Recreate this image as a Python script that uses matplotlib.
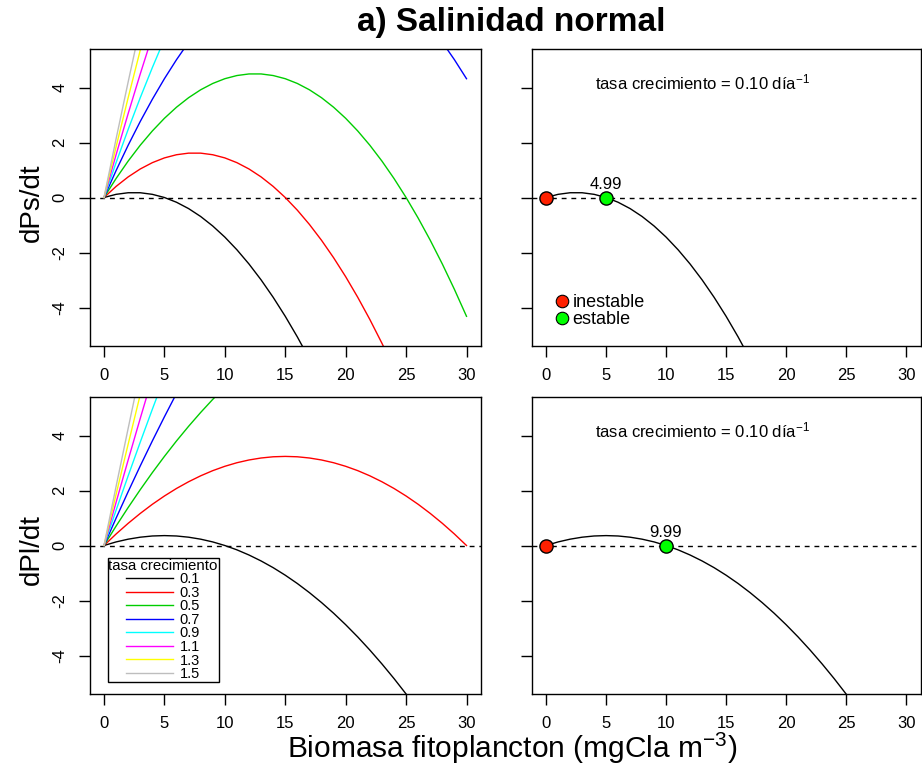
import matplotlib
matplotlib.use("Agg")
import matplotlib.pyplot as plt
from matplotlib.lines import Line2D

plt.rcParams['font.family'] = ['Liberation Sans', 'DejaVu Sans']
plt.rcParams['mathtext.fontset'] = 'custom'
plt.rcParams['mathtext.rm'] = 'Liberation Sans'
plt.rcParams['mathtext.it'] = 'Liberation Sans:italic'
plt.rcParams['mathtext.bf'] = 'Liberation Sans:bold'
plt.rcParams['axes.unicode_minus'] = False

# ---------------- data ----------------
title = "a) Salinidad normal"
xlabel = "Biomasa fitoplancton (mgCla m$^{-3}$)"
ylabels = ["dPs/dt", "dPl/dt"]
rates = ["0.1", "0.3", "0.5", "0.7", "0.9", "1.1", "1.3", "1.5"]
rate_colors = ["black", "#FF0000", "#00CD00", "#0000FF", "#00FFFF", "#FF00FF", "#FFFF00", "#BEBEBE"]
biomass = list(range(0, 31))   # x grid (mgCla m-3)

ps_01 = [0, 0.115, 0.173, 0.173, 0.115, 0, -0.173, -0.403, -0.691, -1.037, -1.44, -1.901,
         -2.419, -2.995, -3.629, -4.32, -5.069, -5.875]
ps_03 = [0, 0.403, 0.749, 1.037, 1.267, 1.44, 1.555, 1.613, 1.613, 1.555, 1.44, 1.267, 1.037,
         0.749, 0.403, 0, -0.461, -0.979, -1.555, -2.189, -2.88, -3.629, -4.435, -5.299, -6.221]
ps_05 = [0, 0.691, 1.325, 1.901, 2.419, 2.88, 3.283, 3.629, 3.917, 4.147, 4.32, 4.435, 4.493,
         4.493, 4.435, 4.32, 4.147, 3.917, 3.629, 3.283, 2.88, 2.419, 1.901, 1.325, 0.691, 0,
         -0.749, -1.555, -2.419, -3.341, -4.32]
ps_07 = [0, 0.979, 1.901, 2.765, 3.571, 4.32, 5.011, 5.645, 6.221, 6.739, 7.2, 7.603, 7.949,
         8.237, 8.467, 8.64, 8.755, 8.813, 8.813, 8.755, 8.64, 8.467, 8.237, 7.949, 7.603, 7.2,
         6.739, 6.221, 5.645, 5.011, 4.32]
ps_09 = [0, 1.267, 2.477, 3.629, 4.723, 5.76, 6.739]
ps_11 = [0, 1.555, 3.053, 4.493, 5.875]
ps_13 = [0, 1.843, 3.629, 5.357, 7.027]
ps_15 = [0, 2.131, 4.205, 6.221]

pl_01 = [0, 0.130, 0.230, 0.302, 0.346, 0.36, 0.346, 0.302, 0.230, 0.130, 0, -0.158, -0.346,
         -0.562, -0.806, -1.08, -1.382, -1.714, -2.074, -2.462, -2.88, -3.326, -3.802, -4.306,
         -4.838, -5.4, -5.990]
pl_03 = [0, 0.418, 0.806, 1.166, 1.498, 1.8, 2.074, 2.318, 2.534, 2.722, 2.88, 3.010, 3.110,
         3.182, 3.226, 3.24, 3.226, 3.182, 3.110, 3.010, 2.88, 2.722, 2.534, 2.318, 2.074, 1.8,
         1.498, 1.166, 0.806, 0.418, 0]
pl_05 = [0, 0.706, 1.382, 2.030, 2.650, 3.24, 3.802, 4.334, 4.838, 5.314, 5.76, 6.178]
pl_07 = [0, 0.994, 1.958, 2.894, 3.802, 4.68, 5.530, 6.350]
pl_09 = [0, 1.282, 2.534, 3.758, 4.954, 6.12]
pl_11 = [0, 1.570, 3.110, 4.622, 6.106]
pl_13 = [0, 1.858, 3.686, 5.486, 7.258]
pl_15 = [0, 2.146, 4.262, 6.350]

ps_curves = [ps_01, ps_03, ps_05, ps_07, ps_09, ps_11, ps_13, ps_15]
pl_curves = [pl_01, pl_03, pl_05, pl_07, pl_09, pl_11, pl_13, pl_15]

eq_ps = [0, 4.99]          # unstable, stable equilibria (Ps)
eq_pl = [0, 9.99]          # unstable, stable equilibria (Pl)
eq_colors = ["#FF2000", "#00FF00"]
eq_labels = ["inestable", "estable"]
sel_rate_text = "tasa crecimiento = 0.10 d\u00eda$^{-1}$"

xticks = [0, 5, 10, 15, 20, 25, 30]
yticks = [-4, -2, 0, 2, 4]
xlim = (-1.2, 31.2)
ylim = (-5.4, 5.4)

# ---------------- figure ----------------
W, H = 922, 769
fig = plt.figure(figsize=(W / 100, H / 100), dpi=100)

def px_axes(x0, y0, x1, y1):
    return fig.add_axes([x0 / W, 1 - y1 / H, (x1 - x0) / W, (y1 - y0) / H])

ax_tl = px_axes(89.5, 49, 481, 346)
ax_tr = px_axes(531.7, 49, 920.5, 346)
ax_bl = px_axes(89.5, 397, 481, 694)
ax_br = px_axes(531.7, 397, 920.5, 694)

def style(ax, ylabels_on=True):
    ax.set_xlim(*xlim)
    ax.set_ylim(*ylim)
    ax.set_xticks(xticks)
    ax.set_yticks(yticks)
    ax.tick_params(direction='out', length=8, width=1, labelsize=12, pad=8, color='black')
    ax.tick_params(axis='y', labelrotation=90)
    for lab in ax.get_yticklabels():
        lab.set_va('center')
    if not ylabels_on:
        ax.set_yticklabels([])
    for s in ax.spines.values():
        s.set_linewidth(1)
        s.set_color('black')
    ax.axhline(0, color='black', lw=1, ls=(0, (3.5, 3.5)), zorder=1)

for ax, curves in [(ax_tl, ps_curves), (ax_bl, pl_curves)]:
    style(ax, True)
    for ys, c in zip(curves, rate_colors):
        ax.plot(biomass[:len(ys)], ys, color=c, lw=1, zorder=2)

for ax, ys, eq, in [(ax_tr, ps_01, eq_ps), (ax_br, pl_01, eq_pl)]:
    style(ax, False)
    ax.plot(biomass[:len(ys)], ys, color='black', lw=1, zorder=2)
    for xv, c in zip(eq, eq_colors):
        ax.plot([xv], [0], 'o', ms=9.5, mfc=c, mec='black', mew=1, zorder=4, clip_on=False)
    ax.annotate(f"{eq[1]:.2f}", (eq[1], 0), xytext=(0, 4), textcoords='offset points',
                ha='center', va='bottom', fontsize=12)
    ax.text(13, 4.18, sel_rate_text, ha='center', va='center', fontsize=12)

# legend inestable/estable (top right)
hnd = [Line2D([], [], ls='none', marker='o', ms=9, mfc=c, mec='black', mew=0.8)
       for c in eq_colors]
ax_tr.legend(hnd, eq_labels, loc='lower left', bbox_to_anchor=(0.063, 0.06), frameon=False,
             fontsize=13, handlelength=0.6, handletextpad=0.3, labelspacing=0.0,
             borderaxespad=0, borderpad=0)

# legend growth rates (bottom left)
hnd2 = [Line2D([], [], color=c, lw=1) for c in rate_colors]
leg = ax_bl.legend(hnd2, rates, title="tasa crecimiento", loc='lower left',
                   bbox_to_anchor=(0.0465, 0.041), borderaxespad=0, fontsize=10.5,
                   title_fontsize=10.8, handlelength=3.2, handletextpad=0.45,
                   labelspacing=-0.03, borderpad=0.05, fancybox=False, framealpha=1,
                   edgecolor='black')
leg.get_frame().set_linewidth(1)
leg._legend_box.align = "center"

fig.text(511 / W, 1 - 22 / H, title, ha='center', va='center', fontsize=24, fontweight='bold')
fig.text(32 / W, 1 - 203 / H, ylabels[0], ha='center', va='center', rotation=90, fontsize=20)
fig.text(32 / W, 1 - 550 / H, ylabels[1], ha='center', va='center', rotation=90, fontsize=20)
fig.text(512 / W, 1 - 748 / H, xlabel, ha='center', va='center', fontsize=21.5)

fig.savefig("out.png", dpi=100)
